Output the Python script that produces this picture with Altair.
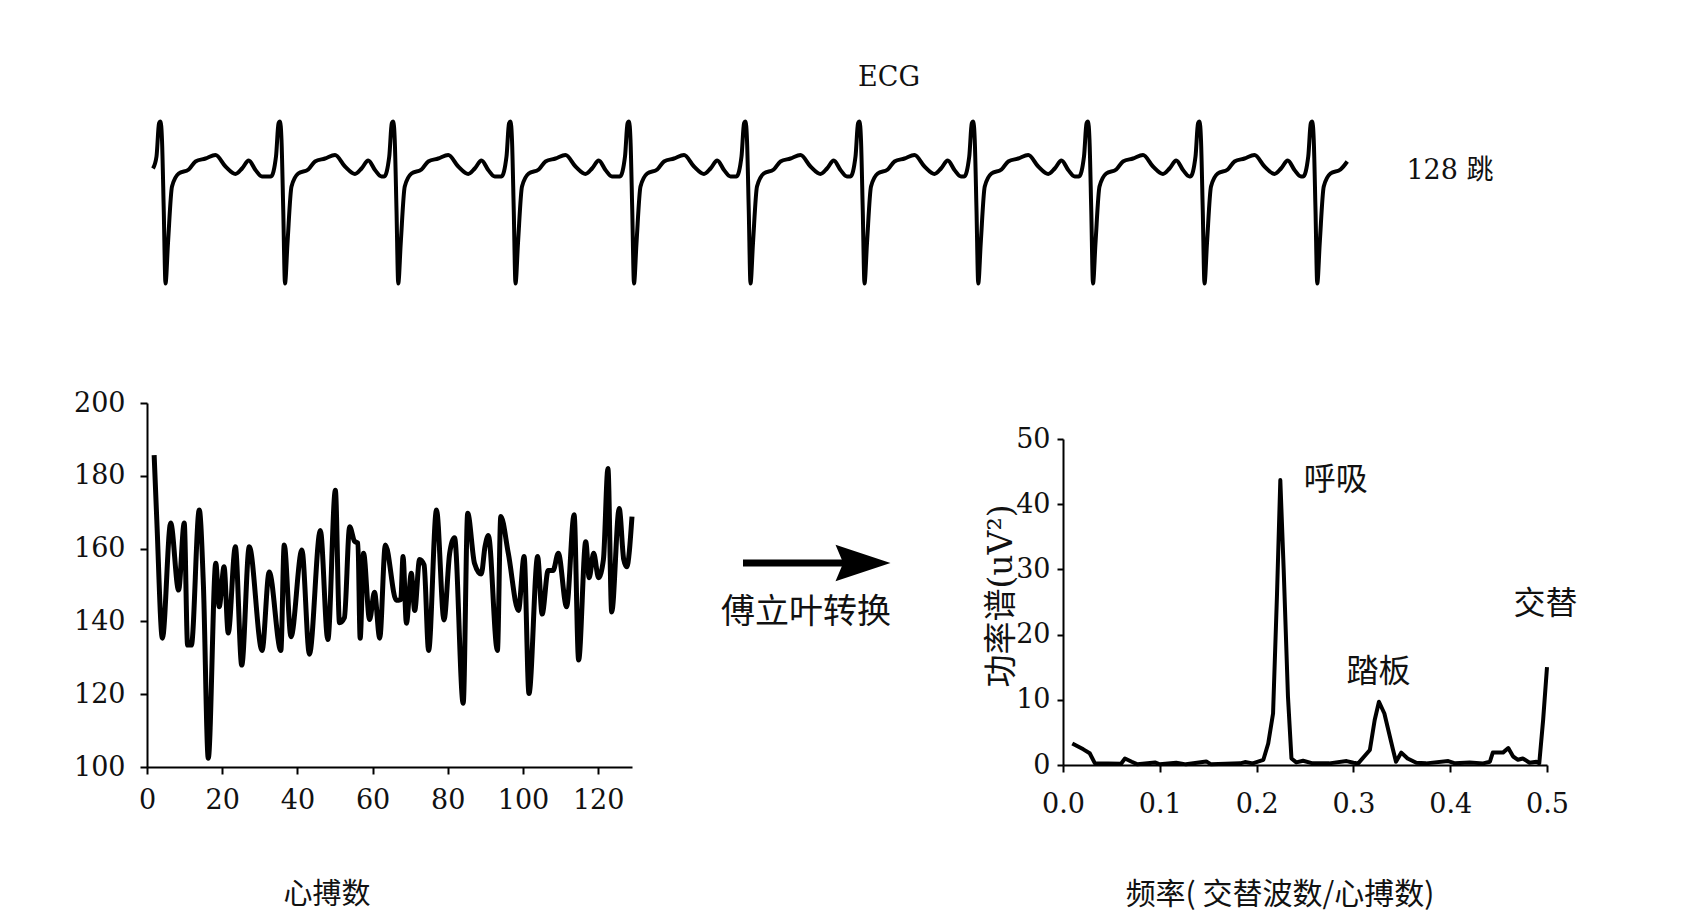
import altair as alt
import pandas as pd

# ---------------- data ----------------
# Heart rate per beat (left panel)
hr_beat = [1.9, 2.6, 4.1, 6.3, 8.4, 9.9, 10.8, 11.8, 13.9, 15.0, 16.3, 18.3, 19.2, 20.5, 21.6,
           23.5, 25.2, 27.2, 30.6, 32.5, 35.6, 36.5, 38.3, 41.2, 43.2, 46.1, 48.1, 50.1, 51.2,
           52.5, 53.9, 55.2, 56.1, 56.7, 57.6, 59.2, 60.5, 61.9, 63.4, 66.3, 67.5, 68.1, 69.0,
           70.3, 71.2, 72.5, 73.7, 74.9, 77.0, 79.0, 80.5, 81.8, 84.1, 85.3, 87.1, 88.9, 89.9,
           90.8, 93.2, 94.1, 96.1, 98.8, 100.3, 101.6, 103.9, 105.1, 106.7, 108.0, 109.4, 111.6,
           113.6, 114.8, 116.7, 117.6, 118.8, 120.1, 121.4, 122.6, 123.6, 125.6, 126.8, 127.6, 129.0]
hr_value = [185.7, 168, 135.4, 167, 148.6, 167, 133.5, 133.5, 170.6, 150, 102.4, 156, 144, 155, 136.8,
            160.5, 128, 160.5, 132, 153.6, 132, 161, 135.8, 159.6, 131, 165, 135, 176, 139.6,
            141, 166, 162, 161.5, 135.4, 158.7, 140.5, 148, 135.4, 161, 145.8, 146, 157.8, 139.5,
            153.2, 143, 157, 155.5, 132, 170.6, 140.4, 158.7, 163, 117.5, 169.7, 156, 153, 160.5,
            163.6, 132, 168.8, 158.7, 143, 157.8, 120.2, 157.8, 142, 154, 154, 158.7, 144,
            169.3, 129.4, 161.9, 152, 158.7, 152, 157, 182, 142.6, 171, 157, 155, 168.8]

# Power spectrum (right panel)
freq = [0.0096, 0.021, 0.0276, 0.033, 0.06, 0.064, 0.071, 0.077, 0.095, 0.1, 0.117, 0.127, 0.148,
        0.153, 0.183, 0.188, 0.196, 0.207, 0.212, 0.217, 0.221, 0.2245, 0.228, 0.2324, 0.236,
        0.241, 0.248, 0.258, 0.275, 0.293, 0.3, 0.305, 0.317, 0.322, 0.3264, 0.332, 0.341, 0.344,
        0.3495, 0.356, 0.365, 0.375, 0.398, 0.405, 0.42, 0.434, 0.441, 0.444, 0.4545, 0.46, 0.465,
        0.47, 0.475, 0.482, 0.489, 0.492, 0.496, 0.5]
power = [3.3, 2.4, 1.8, 0.25, 0.2, 1.0, 0.5, 0.1, 0.4, 0.1, 0.35, 0.1, 0.55,
         0.1, 0.25, 0.45, 0.25, 0.8, 3.3, 7.9, 25.8, 43.7, 29.9, 10.5, 1.0,
         0.4, 0.65, 0.25, 0.25, 0.6, 0.35, 0.25, 2.3, 6.9, 9.7, 7.9, 2.3, 0.5,
         1.9, 1.0, 0.35, 0.25, 0.6, 0.25, 0.4, 0.25, 0.5, 1.9, 1.9, 2.6, 1.3,
         0.8, 1.0, 0.35, 0.5, 0.25, 6.9, 15.0]

# Peak labels on the spectrum
peak_label = ["呼吸", "踏板", "交替"]
peak_f = [0.2817, 0.326, 0.4985]
peak_p = [43.7, 14.3, 24.7]

# ECG strip: R-peak times (ms) and one beat shape (ms from R, mV)
ecg_r_ms = [30, 508, 961, 1430, 1904, 2370, 2826, 3281, 3740, 4186, 4637]
beat_dt = [-36, -16, -6, 0, 6, 13, 20, 30, 46, 73, 113, 140, 180, 220, 260, 300, 326, 353, 380, 406]
beat_mv = [-0.13, 0.27, 0.93, 0.97, 0.6, -0.8, -2.27, -1.46, -0.33, -0.07, 0.01, 0.17, 0.23, 0.3,
           0.07, -0.08, 0.03, 0.19, 0.0, -0.13]
ecg_lead_t = [0]
ecg_lead_mv = [0.03]
ecg_end_ms = 4796

hr_ticks = [0, 20, 40, 60, 80, 100, 120]
hr_yticks = [100, 120, 140, 160, 180, 200]
f_ticks = [0.0, 0.1, 0.2, 0.3, 0.4, 0.5]
p_ticks = [0, 10, 20, 30, 40, 50]

# ---------------- build tables ----------------
hr_df = pd.DataFrame({"beat": hr_beat, "hr": hr_value})
sp_df = pd.DataFrame({"f": freq, "p": power})
pk_df = pd.DataFrame({"f": peak_f, "p": peak_p, "label": peak_label})

rows = [{"t": t, "mv": v} for t, v in zip(ecg_lead_t, ecg_lead_mv)]
for r in ecg_r_ms:
    for dt, v in zip(beat_dt, beat_mv):
        t = r + dt
        if 0 < t <= ecg_end_ms:
            rows.append({"t": t, "mv": v})
ecg_df = pd.DataFrame(rows).sort_values("t")

SERIF = "DejaVu Serif"
CJK = "Noto Sans CJK SC"
MIX = "DejaVu Serif, Noto Sans CJK SC"
INK = "#111111"

axis_common = dict(
    grid=False, title=None, labelFont=SERIF, labelFontSize=27, labelColor=INK,
    domainColor="black", domainWidth=2, tickColor="black", tickWidth=2,
    labelOverlap=False, labelFlush=False,
)

# ---------------- ECG ----------------
ecg = alt.Chart(ecg_df).mark_line(color="black", strokeWidth=4, strokeJoin="round",
                                  interpolate="monotone").encode(
    x=alt.X("t:Q", scale=alt.Scale(domain=[0, 4800], range=[145, 1345]), axis=None),
    y=alt.Y("mv:Q", scale=alt.Scale(domain=[-2.5, 1.0], range=[287, 112]), axis=None),
)

# ---------------- heart-rate panel ----------------
hr_x = alt.X("beat:Q", scale=alt.Scale(domain=[0, 129], range=[139, 624], nice=False, zero=False),
             axis=alt.Axis(values=hr_ticks, orient="bottom", offset=-148, tickSize=7,
                           labelPadding=13, **axis_common))
hr_y = alt.Y("hr:Q", scale=alt.Scale(domain=[100, 200], range=[759, 395], nice=False, zero=False),
             axis=alt.Axis(values=hr_yticks, orient="left", offset=-139, tickSize=7,
                           labelPadding=15, **axis_common))
hr = alt.Chart(hr_df).mark_line(color="black", strokeWidth=5, strokeJoin="round",
                                interpolate="monotone").encode(x=hr_x, y=hr_y)

# ---------------- spectrum panel ----------------
sp_x = alt.X("f:Q", scale=alt.Scale(domain=[0, 0.5], range=[1055, 1539], nice=False, zero=False),
             axis=alt.Axis(values=f_ticks, format=".1f", orient="bottom", offset=-150, tickSize=7,
                           labelPadding=19, **axis_common))
sp_y = alt.Y("p:Q", scale=alt.Scale(domain=[0, 50], range=[757, 431], nice=False, zero=False),
             axis=alt.Axis(values=p_ticks, orient="left", offset=-1055, tickSize=6,
                           labelPadding=7, **axis_common))
sp_line = alt.Chart(sp_df).mark_line(color="black", strokeWidth=4, strokeJoin="round").encode(x=sp_x, y=sp_y)
sp_text = alt.Chart(pk_df).mark_text(font=CJK, fontSize=32, color=INK, align="center",
                                     baseline="middle").encode(x=sp_x, y=sp_y, text="label:N")
spectrum = alt.layer(sp_line, sp_text)

# ---------------- free text and arrow ----------------
def label(text, x, y, size, font, angle=0):
    return alt.Chart(pd.DataFrame({"s": [text]})).mark_text(
        font=font, fontSize=size, color=INK, align="center", baseline="middle", angle=angle
    ).encode(text="s:N", x=alt.value(x), y=alt.value(y))

texts = [
    label("ECG", 881, 70, 27, SERIF),
    label("128 跳", 1442, 163, 27, MIX),
    label("傅立叶转换", 798, 605, 34, CJK),
    label("心搏数", 319, 887, 29, CJK),
    label("频率( 交替波数/心搏数)", 1272, 887, 30, CJK),
    label("功率谱(uV²)", 994, 588, 33, MIX, angle=270),
]

shaft = alt.Chart(pd.DataFrame({"a": [0]})).mark_rule(color="black", strokeWidth=7).encode(
    x=alt.value(735), x2=alt.value(840), y=alt.value(555))
head = alt.Chart(pd.DataFrame({"a": [0]})).mark_point(
    shape="M1,0L-1,-0.66L-0.72,0L-1,0.66Z", size=3025, filled=True, color="black", opacity=1,
    strokeWidth=0).encode(x=alt.value(855), y=alt.value(555))

chart = alt.layer(ecg, hr, spectrum, shaft, head, *texts).resolve_scale(
    x="independent", y="independent"
).properties(
    width=1684, height=907, padding=0, autosize=alt.AutoSizeParams(type="none"),
    background="white",
).configure_view(strokeOpacity=0)

chart.save("out.html", embed_options={"renderer": "svg", "actions": False})
